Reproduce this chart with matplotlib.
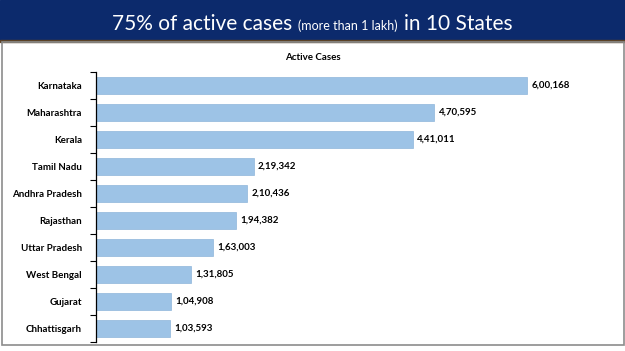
import matplotlib
matplotlib.use("Agg")
import matplotlib.pyplot as plt
from matplotlib.patches import Rectangle

states = ["Karnataka", "Maharashtra", "Kerala", "Tamil Nadu", "Andhra Pradesh",
          "Rajasthan", "Uttar Pradesh", "West Bengal", "Gujarat", "Chhattisgarh"]
cases = [600168, 470595, 441011, 219342, 210436, 194382, 163003, 131805, 104908, 103593]
labels = ["6,00,168", "4,70,595", "4,41,011", "2,19,342", "2,10,436",
          "1,94,382", "1,63,003", "1,31,805", "1,04,908", "1,03,593"]

title_parts = [("75% of active cases", 15), ("(more than 1 lakh)", 9), ("in 10 States", 15)]

plt.rcParams['font.family'] = ['Lato', 'DejaVu Sans']

W, H = 625, 351
fig = plt.figure(figsize=(W / 100, H / 100), dpi=100)

# navy banner + thin brown rule
fig.patches.append(Rectangle((0, 1 - 40 / H), 1, 40 / H, transform=fig.transFigure,
                             color="#0c2a6c", zorder=0))
fig.patches.append(Rectangle((0, 1 - 42 / H), 1, 2 / H, transform=fig.transFigure,
                             color="#5b4126", zorder=0))
# grey chart frame
fig.patches.append(Rectangle((2 / W, 1 - 345 / H), 622 / W, 303 / H, transform=fig.transFigure,
                             fill=False, edgecolor="#8c8c8c", lw=1.2, zorder=0))

# banner title, pieces with different sizes laid out one after another
fig.canvas.draw()
r = fig.canvas.get_renderer()
pieces = []
gap = 6
for txt, size in title_parts:
    t = fig.text(0, 1 - 30 / H, txt, color="white", fontsize=size, va="baseline", ha="left")
    bb = t.get_window_extent(renderer=r)
    pieces.append((t, bb.width))
total = sum(w for _, w in pieces) + gap * (len(pieces) - 1)
x0 = (W - total) / 2
for t, w in pieces:
    t.set_x(x0 / W)
    x0 += w + gap

ax = fig.add_axes([96 / W, 1 - 342 / H, 503 / W, 270 / H])
y = list(range(len(states)))
ax.barh(y, cases, height=0.6, color="#9dc3e6", edgecolor="#8fb5da", lw=0.5)
for yi, v, lab in zip(y, cases, labels):
    ax.text(v + 6000, yi, lab, va="center", ha="left", fontsize=7, fontweight="bold")
ax.set_ylim(len(states) - 0.5, -0.5)
ax.set_xlim(0, 700000)
ax.set_yticks(y)
ax.set_yticklabels(states, fontsize=7, fontweight="bold")
ax.set_yticks([i - 0.5 for i in range(len(states) + 1)], minor=True)
ax.tick_params(axis="y", which="major", length=0, pad=10)
ax.tick_params(axis="y", which="minor", length=4, width=0.8, direction="out")
ax.set_xticks([])
for s in ["top", "right", "bottom"]:
    ax.spines[s].set_visible(False)
ax.spines["left"].set_linewidth(0.9)
ax.set_facecolor("none")

fig.text(0.5, 1 - 58 / H, "Active Cases", ha="center", va="center", fontsize=7, fontweight="bold")

fig.savefig("out.png", dpi=100)
